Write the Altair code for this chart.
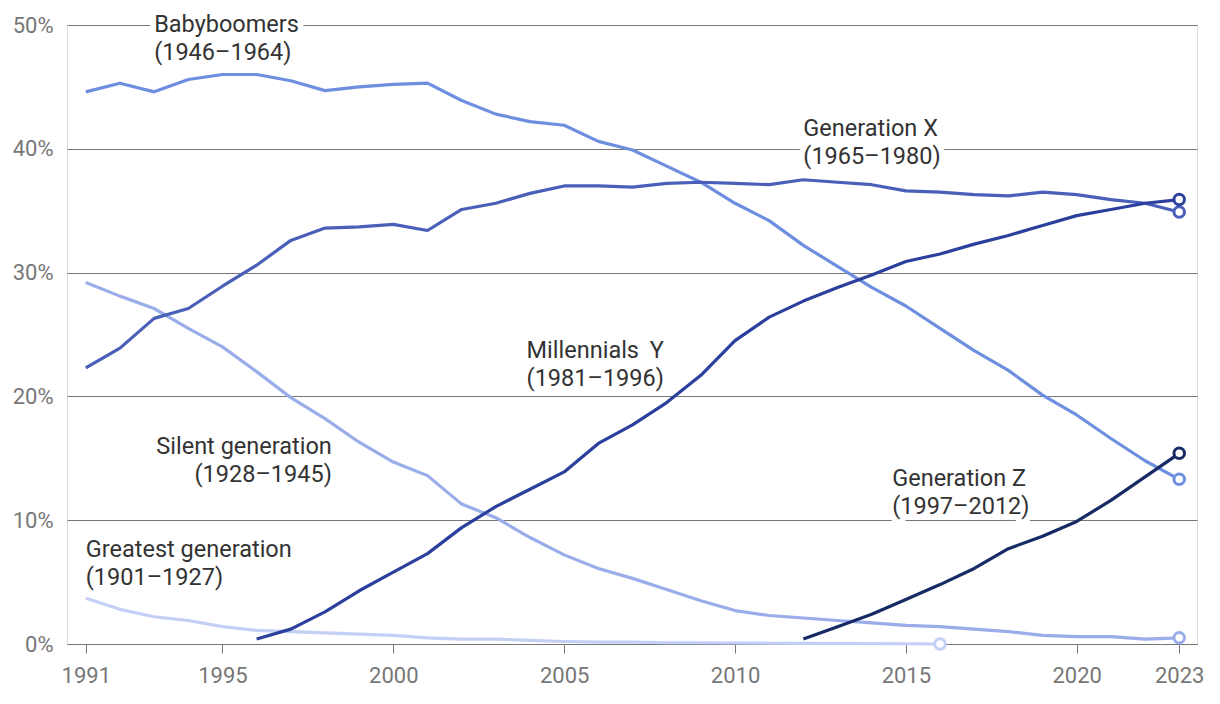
import altair as alt
import pandas as pd

years = list(range(1991, 2024))

greatest = [3.7, 2.8, 2.2, 1.9, 1.4, 1.1, 1.0, 0.9, 0.8, 0.7, 0.5, 0.4, 0.4, 0.3, 0.2,
            0.15, 0.15, 0.1, 0.1, 0.08, 0.06, 0.05, 0.04, 0.03, 0.02, 0.0]
silent = [29.2, 28.1, 27.1, 25.5, 24.0, 22.0, 19.9, 18.2, 16.3, 14.7, 13.6, 11.3, 10.2, 8.6,
          7.2, 6.1, 5.3, 4.4, 3.5, 2.7, 2.3, 2.1, 1.9, 1.7, 1.5, 1.4, 1.2, 1.0, 0.7, 0.6,
          0.6, 0.4, 0.5]
boomers = [44.6, 45.3, 44.6, 45.6, 46.0, 46.0, 45.5, 44.7, 45.0, 45.2, 45.3, 43.9, 42.8,
           42.2, 41.9, 40.6, 39.9, 38.6, 37.3, 35.6, 34.2, 32.2, 30.5, 28.8, 27.3, 25.5,
           23.7, 22.1, 20.1, 18.5, 16.6, 14.8, 13.3]
genx = [22.3, 23.9, 26.3, 27.1, 28.9, 30.6, 32.6, 33.6, 33.7, 33.9, 33.4, 35.1, 35.6, 36.4,
        37.0, 37.0, 36.9, 37.2, 37.3, 37.2, 37.1, 37.5, 37.3, 37.1, 36.6, 36.5, 36.3, 36.2,
        36.5, 36.3, 35.9, 35.6, 34.9]
millennials = [0.4, 1.2, 2.6, 4.3, 5.8, 7.3, 9.4, 11.1, 12.5, 13.9, 16.2, 17.7, 19.5, 21.7,
               24.5, 26.4, 27.7, 28.8, 29.8, 30.9, 31.5, 32.3, 33.0, 33.8, 34.6, 35.1, 35.6,
               35.9]
genz = [0.4, 1.4, 2.4, 3.6, 4.8, 6.1, 7.7, 8.7, 9.9, 11.6, 13.5, 15.4]

series = [
    ("Greatest", 1991, greatest),
    ("Silent", 1991, silent),
    ("Boomers", 1991, boomers),
    ("GenX", 1991, genx),
    ("Millennials", 1996, millennials),
    ("GenZ", 2012, genz),
]
names = [s[0] for s in series]
colors = ["#c4cff5", "#9aadea", "#6e8ee0", "#4a5fb8", "#2b3f9c", "#172a66"]

rows = []
for name, start, vals in series:
    for i, v in enumerate(vals):
        rows.append({"year": start + i, "value": v, "gen": name})
df = pd.DataFrame(rows)
last = df.groupby("gen", as_index=False).last()

label_text = [
    ["Babyboomers", "(1946–1964)"],
    ["Generation X", "(1965–1980)"],
    ["Millennials \u2009Y", "(1981–1996)"],
    ["Silent generation", "(1928–1945)"],
    ["Greatest generation", "(1901–1927)"],
    ["Generation Z", "(1997–2012)"],
]
label_x = [1993.0, 2012.0, 2003.9, 1998.2, 1991.0, 2014.6]
label_y = [50.0, 41.6, 23.7, 15.9, 7.6, 13.3]
label_align = ["left", "left", "left", "right", "left", "left"]
label_halo = [True, True, False, False, False, True]
labels = pd.DataFrame({"text": label_text, "x": label_x, "y": label_y,
                       "align": label_align, "halo": label_halo})

xs = alt.X("year:Q", scale=alt.Scale(domain=[1990.45, 2023.52], nice=False, zero=False),
           axis=alt.Axis(values=[1991, 1995, 2000, 2005, 2010, 2015, 2020, 2023], format="d",
                         title=None, grid=False, domain=True, domainColor="#777777",
                         ticks=True, tickColor="#777777", tickSize=9, labelPadding=12,
                         labelFontSize=22, labelColor="#777777", labelFont="Roboto"))
ys = alt.Y("value:Q", scale=alt.Scale(domain=[0, 50], nice=False),
           axis=alt.Axis(values=[0, 10, 20, 30, 40, 50], labelExpr="datum.value + '%'",
                         title=None, grid=True, gridColor="#777777", gridWidth=1,
                         domain=False, ticks=False, tickSize=0, labelPadding=14,
                         labelFontSize=22, labelColor="#777777", labelFont="Roboto"))

color = alt.Color("gen:N", scale=alt.Scale(domain=names, range=colors), legend=None)

lines = alt.Chart(df).mark_line(strokeWidth=3.2, strokeJoin="round").encode(
    x=xs, y=ys, color=color, detail="gen:N")
dots = alt.Chart(last).mark_point(filled=False, fill="white", size=110, strokeWidth=3,
                                  opacity=1).encode(
    x="year:Q", y="value:Q", stroke=alt.Stroke("gen:N", scale=alt.Scale(domain=names, range=colors), legend=None))

def text_layer(align, halo):
    kw = dict(fontSize=23.5, font="Roboto", lineHeight=28, baseline="middle", align=align,
              color="#333333")
    base = alt.Chart(labels).transform_filter(alt.datum.align == align)
    if halo:
        kw.update(stroke="white", strokeWidth=12, strokeJoin="round", color="white")
        base = base.transform_filter(alt.datum.halo)
    return base.mark_text(**kw).encode(x="x:Q", y="y:Q", text="text")

layers = [text_layer("left", True)]
layers.append(lines)
for a in ["left", "right"]:
    layers.append(text_layer(a, False))
layers.append(dots)

chart = alt.layer(*layers).properties(
    width=1130, height=619,
    padding={"left": 4, "top": 5, "right": 5, "bottom": 5},
).configure_view(stroke=None).configure(background="white")

chart.save("out.html", embed_options={"renderer": "svg", "actions": False})
